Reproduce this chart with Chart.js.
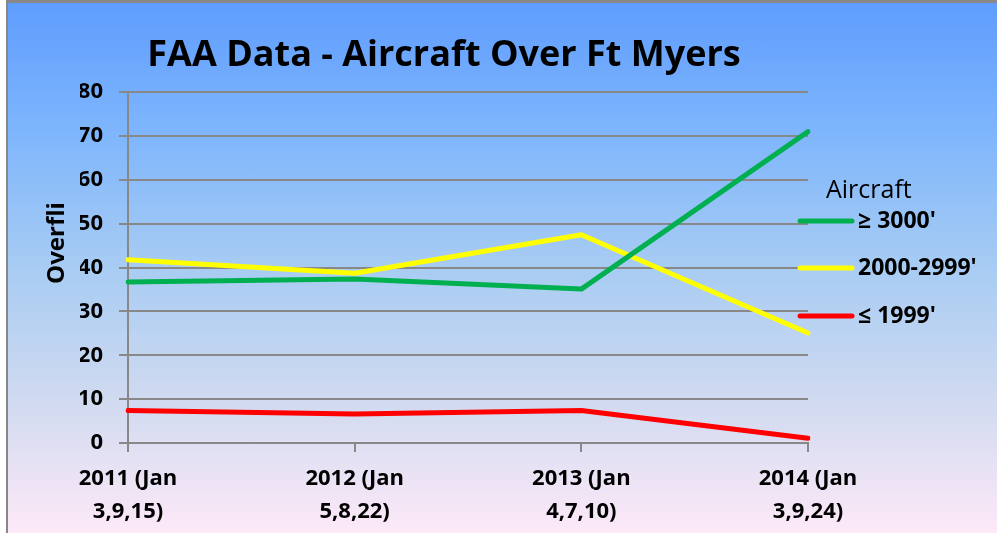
<!DOCTYPE html>
<html lang="en">
<head>
  <meta charset="UTF-8" />
  <title>FAA Data - Aircraft Over Ft Myers</title>
  <script src="https://cdn.jsdelivr.net/npm/chart.js@4.4.0/dist/chart.umd.min.js"></script>
  <style>
    html, body { margin: 0; padding: 0; background: #fff; }
    #wrap {
      position: absolute; left: 6px; top: 0; width: 991px; height: 530px;
      border-left: 2px solid #888; border-top: 3px solid #888;
      background: linear-gradient(to bottom, #5f9dfe 0%, #7fb6fc 25%, #a8ccf3 50%, #d0daf0 75%, #e8e2f4 88%, #fde9f8 100%);
    }
    #chart { position: absolute; left: -8px; top: -3px; }
  </style>
</head>
<body>
<div id="wrap"><canvas id="chart" width="997" height="533"></canvas></div>
<script>
  // categories (two-line labels)
  const years = [
    ['2011 (Jan', '3,9,15)'],
    ['2012 (Jan', '5,8,22)'],
    ['2013 (Jan', '4,7,10)'],
    ['2014 (Jan', '3,9,24)']
  ];
  // overflights per altitude band
  const over3000 = [36.7, 37.4, 35.1, 71.0];
  const band2000 = [41.8, 38.7, 47.5, 25.1];
  const under1999 = [7.4, 6.6, 7.4, 1.1];

  const FONT = "'Open Sans', Lato, 'Liberation Sans', sans-serif";

  // y axis title sits a bit above the middle, like the original
  const yTitle = {
    id: 'yTitle',
    afterDraw(chart) {
      const c = chart.ctx;
      c.save();
      c.translate(57, 243);
      c.rotate(-Math.PI / 2);
      c.font = "bold 24px " + FONT;
      c.fillStyle = '#000';
      c.textAlign = 'center';
      c.textBaseline = 'middle';
      c.fillText('Overfli', 0, 0);
      c.restore();
    }
  };

  // legend on the right with a line sample per series
  const sideLegend = {
    id: 'sideLegend',
    afterDraw(chart) {
      const c = chart.ctx;
      c.save();
      c.fillStyle = '#000';
      c.textBaseline = 'middle';
      c.textAlign = 'left';
      c.font = "25px " + FONT;
      c.fillText('Aircraft', 826, 191);
      const ys = [221, 268, 316];
      chart.data.datasets.forEach((ds, i) => {
        c.strokeStyle = ds.borderColor;
        c.lineWidth = 5;
        c.lineCap = 'round';
        c.beginPath();
        c.moveTo(800, ys[i]);
        c.lineTo(852, ys[i]);
        c.stroke();
        c.font = "bold 23px " + FONT;
        c.fillText(ds.label, 858, ys[i]);
      });
      c.restore();
    }
  };

  const line = (label, data, color) => ({
    label, data, borderColor: color, backgroundColor: color,
    borderWidth: 5, pointRadius: 0, tension: 0, fill: false,
    borderCapStyle: 'round', borderJoinStyle: 'round'
  });

  new Chart(document.getElementById('chart'), {
    type: 'line',
    data: {
      labels: years,
      datasets: [
        line("\u2265 3000'", over3000, '#00b050'),
        line("2000-2999'", band2000, '#ffff00'),
        line("\u2264 1999'", under1999, '#ff0000')
      ]
    },
    options: {
      responsive: false,
      animation: false,
      layout: { padding: { left: 80, right: 189, top: 0, bottom: 0 } },
      plugins: {
        legend: { display: false },
        tooltip: { enabled: false },
        title: {
          display: true,
          text: 'FAA Data - Aircraft Over Ft Myers',
          color: '#000',
          font: { family: FONT, size: 36, weight: 'bold', lineHeight: 1.2 },
          padding: { top: 34, bottom: 15 }
        }
      },
      scales: {
        x: {
          offset: false,
          afterFit(scale) { scale.height = 90; },
          grid: { drawOnChartArea: false, drawTicks: true, tickLength: 9, color: '#888', lineWidth: 2 },
          border: { color: '#888', width: 2 },
          ticks: {
            color: '#000', padding: 10, maxRotation: 0, autoSkip: false,
            font: { family: FONT, size: 22, weight: 'bold', lineHeight: 1.5 }
          }
        },
        y: {
          min: 0, max: 80,
          afterFit(scale) { scale.width = 48; },
          grid: { color: '#888', lineWidth: 2, tickLength: 9 },
          border: { color: '#888', width: 2 },
          ticks: {
            stepSize: 10, color: '#000', padding: 16,
            font: { family: FONT, size: 22, weight: 'bold' }
          }
        }
      }
    },
    plugins: [yTitle, sideLegend]
  });
</script>
</body>
</html>
